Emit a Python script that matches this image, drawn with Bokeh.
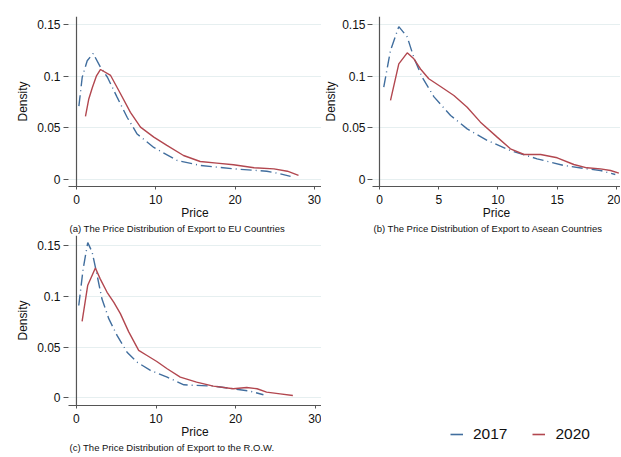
from bokeh.plotting import figure
from bokeh.models import Range1d, FixedTicker, Span, Title
from bokeh.layouts import column, row
from bokeh.embed import file_html
from bokeh.resources import INLINE

# ---------------- data ----------------
ytick_vals = [0, 0.05, 0.1, 0.15]
ytick_labels = ["0", "0.05", "0.1", "0.15"]
xticks_ac = [0, 10, 20, 30]
xticks_ac_labels = ["0", "10", "20", "30"]
xticks_b = [0, 5, 10, 15, 20]
xticks_b_labels = ["0", "5", "10", "15", "20"]

captions = [
    "(a) The Price Distribution of Export to EU Countries",
    "(b) The Price Distribution of Export to Asean Countries",
    "(c) The Price Distribution of Export to the R.O.W.",
]
series_names = ["2017", "2020"]

a_2017_x = [0.3, 0.72, 1.35, 2.1, 3.0, 3.9, 5.1, 6.4, 7.65, 9.75, 12.7, 15.6, 19.8, 24.0, 25.7, 27.0]
a_2017_y = [0.071, 0.099, 0.115, 0.122, 0.109, 0.099, 0.080, 0.060, 0.044, 0.031, 0.0184, 0.0136, 0.0103, 0.008, 0.0055, 0.003]
a_2020_x = [1.13, 1.55, 2.0, 2.5, 3.03, 4.3, 5.55, 6.8, 8.07, 9.75, 11.4, 13.5, 15.6, 17.7, 19.8, 22.4, 24.9, 26.6, 28.0]
a_2020_y = [0.061, 0.078, 0.089, 0.100, 0.1065, 0.1007, 0.083, 0.065, 0.0507, 0.041, 0.033, 0.0232, 0.0174, 0.0158, 0.0142, 0.0113, 0.0103, 0.008, 0.0039]

b_2017_x = [0.36, 0.93, 1.63, 2.34, 2.9, 3.6, 4.6, 6.0, 7.4, 9.1, 11.05, 13.3, 15.55, 17.5, 18.65, 19.9]
b_2017_y = [0.0894, 0.125, 0.148, 0.138, 0.118, 0.099, 0.080, 0.062, 0.049, 0.0378, 0.028, 0.020, 0.0136, 0.0103, 0.0087, 0.0048]
b_2020_x = [0.93, 1.63, 2.34, 2.9, 3.46, 4.16, 5.15, 6.28, 7.4, 8.52, 9.93, 11.05, 12.2, 13.6, 15.0, 16.4, 17.5, 18.65, 19.5, 20.2]
b_2020_y = [0.0765, 0.112, 0.1226, 0.1168, 0.107, 0.0975, 0.090, 0.0813, 0.070, 0.0555, 0.041, 0.0297, 0.0242, 0.0242, 0.021, 0.0145, 0.0113, 0.0103, 0.0087, 0.0061]

c_2017_x = [0.29, 0.84, 1.42, 1.97, 2.6, 3.2, 4.06, 5.1, 6.36, 7.6, 9.3, 11.4, 13.5, 15.1, 17.2, 19.7, 21.8, 23.5]
c_2017_y = [0.091, 0.127, 0.153, 0.1437, 0.1206, 0.0976, 0.078, 0.0615, 0.045, 0.0352, 0.027, 0.0204, 0.0128, 0.0122, 0.0115, 0.0089, 0.0066, 0.003]
c_2020_x = [0.71, 1.42, 2.38, 3.0, 3.85, 4.7, 5.52, 6.57, 7.82, 8.87, 10.1, 11.4, 13.05, 15.1, 17.2, 19.7, 21.4, 22.7, 23.9, 25.6, 27.2]
c_2020_y = [0.0753, 0.111, 0.128, 0.117, 0.104, 0.094, 0.083, 0.065, 0.0467, 0.0417, 0.0358, 0.0286, 0.0204, 0.0155, 0.0115, 0.0089, 0.0102, 0.0089, 0.0056, 0.0039, 0.0023]

# ---------------- styling ----------------
FONT = "Liberation Sans"
C17 = "#416e9e"
C20 = "#b2474f"
DASH17 = "11 4 1 4"
AXC = "#555555"
GRIDC = "#e6eff0"


def panel(w, h, xr, yr, xt, xtl, caption, bl, br, bt, bb, s17, s20, tick_sd=3, lab_sd=4):
    p = figure(width=w, height=h, x_range=Range1d(*xr), y_range=Range1d(*yr),
               output_backend="svg", toolbar_location=None,
               min_border_left=bl, min_border_right=br,
               min_border_top=bt, min_border_bottom=bb)
    p.outline_line_color = None
    p.background_fill_color = "white"
    p.border_fill_color = "white"
    p.xgrid.visible = False
    p.ygrid.ticker = FixedTicker(ticks=ytick_vals)
    p.ygrid.grid_line_color = GRIDC
    p.ygrid.grid_line_width = 1

    xa = p.xaxis[0]
    xa.ticker = FixedTicker(ticks=xt)
    xa.major_label_overrides = {v: l for v, l in zip(xt, xtl)}
    xa.axis_line_color = AXC
    xa.axis_line_width = 1.2
    xa.major_tick_line_color = AXC
    xa.major_tick_out = 3
    xa.major_tick_in = 0
    xa.minor_tick_line_color = None
    xa.major_label_standoff = 5
    xa.major_label_text_font = FONT
    xa.major_label_text_font_size = "12px"
    xa.major_label_text_color = "#111111"
    xa.axis_label = "Price"
    xa.axis_label_text_font = FONT
    xa.axis_label_text_font_size = "12px"
    xa.axis_label_text_font_style = "normal"
    xa.axis_label_text_color = "#111111"
    xa.axis_label_standoff = -1

    ya = p.yaxis[0]
    ya.ticker = FixedTicker(ticks=ytick_vals)
    ya.major_label_overrides = {v: l for v, l in zip(ytick_vals, ytick_labels)}
    ya.axis_line_color = None
    ya.major_tick_line_color = AXC
    ya.major_tick_out = 5
    ya.major_tick_in = 0
    ya.minor_tick_line_color = None
    ya.major_label_standoff = tick_sd
    ya.major_label_text_font = FONT
    ya.major_label_text_font_size = "12px"
    ya.major_label_text_color = "#111111"
    ya.axis_label = "Density"
    ya.axis_label_text_font = FONT
    ya.axis_label_text_font_size = "12px"
    ya.axis_label_text_font_style = "normal"
    ya.axis_label_text_color = "#111111"
    ya.axis_label_standoff = lab_sd

    p.add_layout(Span(location=0, dimension="height", line_color=AXC, line_width=1.2))

    p.line(s17[0], s17[1], line_color=C17, line_width=1.4, line_dash=DASH17)
    p.line(s20[0], s20[1], line_color=C20, line_width=1.4)

    t = Title(text=caption, align="left", offset=1, standoff=-4,
              text_font=FONT, text_font_size="9.5px", text_font_style="normal",
              text_color="#111111")
    p.add_layout(t, "below")
    return p


yr1 = (-0.0068, 0.1578)
yr2 = (-0.0076, 0.160)

pa = panel(321, 235, (-1.01, 30.9), yr1, xticks_ac, xticks_ac_labels, captions[0],
           68, 0, 16, 49, (a_2017_x, a_2017_y), (a_2020_x, a_2020_y))
pb = panel(299, 235, (-0.59, 20.34), yr1, xticks_b, xticks_b_labels, captions[1],
           51, 0, 16, 49, (b_2017_x, b_2017_y), (b_2020_x, b_2020_y), tick_sd=2, lab_sd=1)
pc = panel(321, 221, (-1.0, 30.8), yr2, xticks_ac, xticks_ac_labels, captions[2],
           68, 0, 0, 51, (c_2017_x, c_2017_y), (c_2020_x, c_2020_y))

# legend panel: the two series are drawn far outside the visible range,
# only their legend entries show
pl = figure(width=299, height=221, x_range=Range1d(0, 1), y_range=Range1d(10, 11),
            output_backend="svg", toolbar_location=None,
            x_axis_location=None, y_axis_location=None,
            min_border_left=51, min_border_right=0, min_border_top=0, min_border_bottom=13)
pl.outline_line_color = None
pl.xgrid.visible = False
pl.ygrid.visible = False
pl.line(c_2017_x, c_2017_y, line_color=C17, line_width=1.6, legend_label=series_names[0])
pl.line(c_2020_x, c_2020_y, line_color=C20, line_width=1.6, legend_label=series_names[1])
lg = pl.legend[0]
lg.orientation = "horizontal"
lg.location = (78, 0)
lg.glyph_width = 13
lg.glyph_height = 16
lg.label_standoff = 10
lg.spacing = 25
lg.padding = 0
lg.margin = 0
lg.border_line_color = None
lg.background_fill_alpha = 0
lg.label_text_font = FONT
lg.label_text_font_size = "15.5px"
lg.label_text_color = "#111111"

layout = row(column(pa, pc), column(pb, pl))

open("out.html", "w").write(file_html(layout, INLINE))
